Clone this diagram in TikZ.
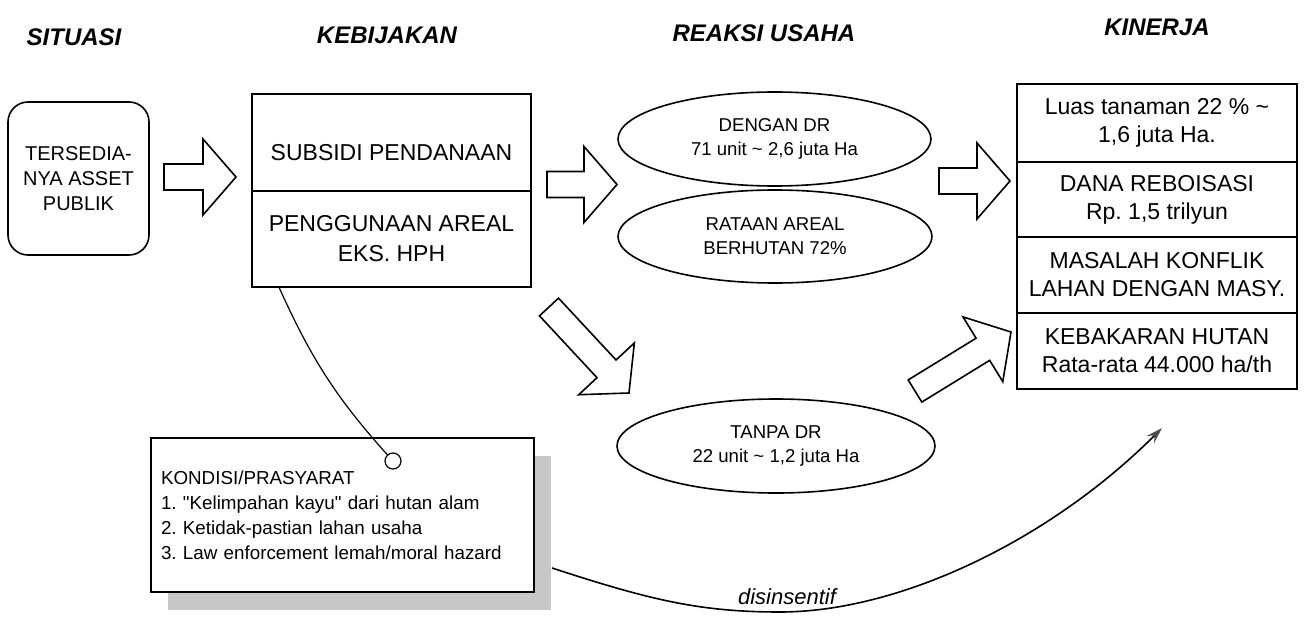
\documentclass[tikz,border=0pt]{standalone}
\usepackage{fontspec}
\setmainfont{Liberation Sans}
\newfontfamily\rawfont{Liberation Sans}
\usetikzlibrary{arrows.meta,calc,shapes.geometric,shadows}
\tikzset{cell/.style={draw, line width=0.8pt, minimum width=139.5pt, inner sep=0pt,
  align=center, font=\fontsize{11.5}{15}\selectfont}}
\tikzset{kin/.style={cell, minimum width=140pt, font=\fontsize{11.5}{14}\selectfont}}
\tikzset{oval/.style={draw, ellipse, line width=0.8pt, inner sep=0pt, align=center,
  font=\fontsize{9.3}{12}\selectfont}}
\tikzset{head/.style={font=\fontsize{12}{14}\selectfont\bfseries\itshape}}
\tikzset{fat/.style={draw, line width=0.8pt, line join=miter}}
% hollow block arrow from #1 (tail) to #2 (tip)
\newcommand{\fatarrow}[2]{%
  \coordinate (#1-#2) at ($(#2)!16.5pt!(#1)$);
  \draw[fat] ($(#1)!6.5pt!90:(#2)$) -- ($(#1-#2)!6.5pt!90:(#2)$)
    -- ($(#1-#2)!19pt!90:(#2)$) -- (#2) -- ($(#1-#2)!19pt!-90:(#2)$)
    -- ($(#1-#2)!6.5pt!-90:(#2)$) -- ($(#1)!6.5pt!-90:(#2)$) -- cycle;}
\newcommand{\dq}{{\rawfont\symbol{34}}}
\frenchspacing
\begin{document}
\begin{tikzpicture}[x=0.5pt, y=-0.5pt]
      \useasboundingbox (0,0) rectangle (1308,621);

      \node [head] (hsit) at (74,37) {SITUASI};
      \node [head] (hkeb) at (387,35) {KEBIJAKAN};
      \node [head] (hrea) at (764,33) {REAKSI USAHA};
      \node [head] (hkin) at (1157,27) {KINERJA};

      \node [draw, line width=0.8pt, rounded corners=10pt, minimum width=70.5pt,
        minimum height=76.5pt, align=center, font=\fontsize{10}{12.5}\selectfont]
        (aset) at (78.5,178.5) {TERSEDIA-\\NYA ASSET\\PUBLIK};

      \node [cell, minimum height=48.5pt, text height=18pt] (subsidi) at (391.5,142.5) {SUBSIDI PENDANAAN};
      \node [cell, minimum height=48pt] (areal) at (391.5,239) {PENGGUNAAN AREAL\\EKS. HPH};

      \node [oval, minimum width=156.5pt, minimum height=47pt] (dengan) at (774.5,139)
        {DENGAN DR\\71 unit \textasciitilde{} 2,6 juta Ha};
      \node [oval, minimum width=157pt, minimum height=46.5pt] (rataan) at (775,236.5)
        {RATAAN AREAL\\BERHUTAN 72\%};
      \node [oval, minimum width=159pt, minimum height=47pt] (tanpa) at (776,446)
        {TANPA DR\\22 unit \textasciitilde{} 1,2 juta Ha};

      \node [kin, minimum height=39pt] (luas) at (1157,123) {Luas tanaman 22 \% \textasciitilde\\1,6 juta Ha.};
      \node [kin, minimum height=37.5pt] (dana) at (1157,199.5) {DANA REBOISASI\\Rp. 1,5 trilyun};
      \node [kin, minimum height=38pt] (konflik) at (1157,275) {MASALAH KONFLIK\\LAHAN DENGAN MASY.};
      \node [kin, minimum height=38pt] (bakar) at (1157,351) {KEBAKARAN HUTAN\\Rata-rata 44.000 ha/th};

      \node [draw, line width=0.8pt, fill=white, minimum width=191.5pt, minimum height=77pt,
        text width=181.5pt, inner sep=5pt, align=left, font=\fontsize{9.4}{12.5}\selectfont,
        drop shadow={shadow xshift=8.5pt, shadow yshift=-9pt, fill=black!22, opacity=1}]
        (kondisi) at (342.5,515) {KONDISI/PRASYARAT\\1. \dq Kelimpahan kayu\dq{} dari hutan alam\\
        2. Ketidak-pastian lahan usaha\\3. Law enforcement lemah/moral hazard};

      \coordinate (foot) at ($(areal.south west)!0.1!(areal.south east)$);
      \node [circle, minimum size=8pt, inner sep=0pt] (knob) at (393,461) {};
      \draw [line width=0.6pt] (foot) to[bend right=9] (knob.center);
      \draw [line width=0.6pt, fill=white] (knob) circle [radius=4pt];

      % block arrows
      \coordinate (a1s) at (164,177);   \coordinate (a1e) at (236,177);
      \coordinate (a2s) at (547,184.5); \coordinate (a2e) at (617,184.5);
      \coordinate (a3s) at (939,181);   \coordinate (a3e) at (1010,181);
      \coordinate (a4s) at (549,307);   \coordinate (a4e) at (629,393);
      \coordinate (a5s) at (915,391);   \coordinate (a5e) at (1011,332);
      \fatarrow{a1s}{a1e}
      \fatarrow{a2s}{a2e}
      \fatarrow{a3s}{a3e}
      \fatarrow{a4s}{a4e}
      \fatarrow{a5s}{a5e}

      \coordinate (dstart) at (552,568);
      \coordinate (dlow) at (780,612);
      \coordinate (dend) at (1162,428);
      \draw [line width=0.8pt, -{Stealth[length=8pt, width=5pt, color=black!70]}]
        (dstart) .. controls (650,600) and (700,612) .. (dlow)
        .. controls (900,612) and (1050,540) .. (dend);
      \node [font=\fontsize{11}{13}\selectfont\itshape] (disin) at (787,597) {disinsentif};
\end{tikzpicture}
\end{document}
